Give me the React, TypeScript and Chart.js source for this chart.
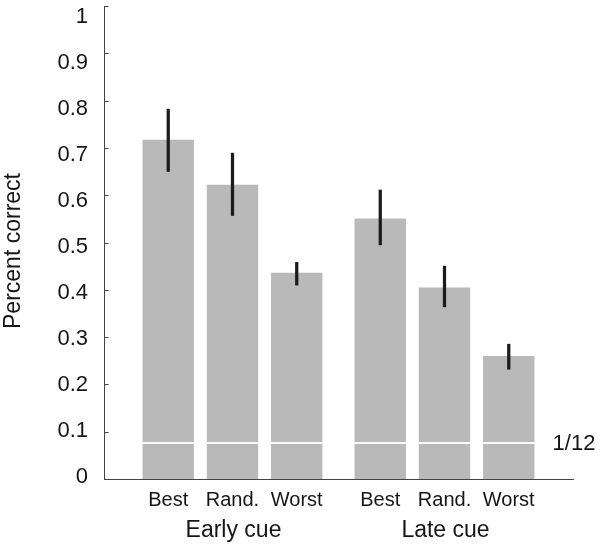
import React, { useEffect, useRef } from "react";
import { Chart, registerables } from "chart.js";

Chart.register(...registerables);

// ---- data ----
const tickLabels = ["Best", "Rand.", "Worst", "Best", "Rand.", "Worst"];
const groupLabels = ["Early cue", "Late cue"];
const groupOf = [0, 0, 0, 1, 1, 1];
const positions = [1, 2, 3, 4.3, 5.3, 6.3];
const means = [0.717, 0.622, 0.436, 0.551, 0.405, 0.26];
const errLow = [0.65, 0.557, 0.41, 0.495, 0.364, 0.232];
const errHigh = [0.782, 0.689, 0.458, 0.611, 0.45, 0.285];
const chanceLevel = 0.077;
const chanceLabel = "1/12";
const yTickValues = [0, 0.1, 0.2, 0.3, 0.4, 0.5, 0.6, 0.7, 0.8, 0.9, 1];
const yTickLabels = ["0", "0.1", "0.2", "0.3", "0.4", "0.5", "0.6", "0.7", "0.8", "0.9", "1"];
const yTitle = "Percent correct";

const FONT = '"Liberation Sans", Arial, Helvetica, sans-serif';
const TEXT = "#151515";
const AXIS = "#444";

export default function App() {
  const ref = useRef<HTMLCanvasElement>(null);

  useEffect(() => {
    const canvas = ref.current;
    if (!canvas) return;

    const overlay = {
      id: "overlay",
      afterDatasetsDraw(chart: any) {
        const ctx = chart.ctx;
        const y = chart.scales.y;
        const meta = chart.getDatasetMeta(0);
        const cy = Math.round(y.getPixelForValue(chanceLevel));
        ctx.save();
        ctx.strokeStyle = "#ffffff";
        ctx.lineWidth = 2;
        meta.data.forEach((bar: any) => {
          const w = bar.width;
          ctx.beginPath();
          ctx.moveTo(bar.x - w / 2, cy);
          ctx.lineTo(bar.x + w / 2, cy);
          ctx.stroke();
        });
        ctx.restore();
      },
      afterDraw(chart: any) {
        const ctx = chart.ctx;
        const x = chart.scales.x;
        const y = chart.scales.y;
        const area = chart.chartArea;
        ctx.save();
        // inward tick marks
        ctx.strokeStyle = AXIS;
        ctx.lineWidth = 1;
        yTickValues.forEach((v) => {
          if (v === 0) return;
          const py = Math.round(y.getPixelForValue(v)) + 0.5;
          ctx.beginPath();
          ctx.moveTo(area.left, py);
          ctx.lineTo(area.left + 4.5, py);
          ctx.stroke();
        });
        ctx.fillStyle = TEXT;
        // group labels
        ctx.font = `23px ${FONT}`;
        ctx.textAlign = "center";
        ctx.textBaseline = "alphabetic";
        groupLabels.forEach((g, gi) => {
          const xs = positions.filter((_, i) => groupOf[i] === gi);
          const c = xs.reduce((a, b) => a + b, 0) / xs.length;
          ctx.fillText(g, x.getPixelForValue(c) + 1, 537);
        });
        // chance label
        ctx.font = `22px ${FONT}`;
        ctx.textAlign = "center";
        ctx.textBaseline = "middle";
        ctx.fillText(chanceLabel, area.right + 1, y.getPixelForValue(chanceLevel) + 1.5);
        // y title
        ctx.translate(14, 251);
        ctx.rotate(-Math.PI / 2);
        ctx.font = `23px ${FONT}`;
        ctx.textAlign = "center";
        ctx.textBaseline = "middle";
        ctx.fillText(yTitle, 0, 0);
        ctx.restore();
      },
    };

    const chart = new Chart(canvas, {
      type: "bar",
      data: {
        datasets: [
          {
            label: "mean",
            data: positions.map((p, i) => ({ x: p, y: means[i] })),
            backgroundColor: "#b9b9b9",
            borderWidth: 0,
            grouped: false,
            categoryPercentage: 1,
            barPercentage: 0.8,
            order: 2,
            xAxisID: "x",
            yAxisID: "y",
          } as any,
          {
            label: "error",
            data: positions.map((p, i) => ({ x: p, y: [errLow[i], errHigh[i]] })),
            backgroundColor: "#1c1c1c",
            borderWidth: 0,
            grouped: false,
            barThickness: 2.6,
            order: 1,
            xAxisID: "x",
            yAxisID: "y",
          } as any,
        ],
      },
      options: {
        animation: false,
        responsive: true,
        maintainAspectRatio: false,
        layout: { padding: { top: 6, right: 27, left: 0, bottom: 0 } },
        plugins: {
          legend: { display: false },
          tooltip: { enabled: false },
          title: { display: false },
        },
        scales: {
          x: {
            type: "linear",
            min: 0,
            max: 7.3,
            offset: false,
            grid: { display: false, drawTicks: false, offset: false },
            border: { display: true, color: AXIS, width: 1 },
            afterBuildTicks: (s: any) => {
              s.ticks = positions.map((v) => ({ value: v }));
            },
            ticks: {
              autoSkip: false,
              maxRotation: 0,
              minRotation: 0,
              padding: 9,
              color: TEXT,
              font: { family: FONT, size: 20 },
              callback: (_v: any, i: number) => tickLabels[i],
            },
            afterFit: (s: any) => {
              s.height = 67;
              s.paddingLeft = 0;
              s.paddingRight = 0;
            },
          } as any,
          y: {
            type: "linear",
            display: false,
            min: 0,
            max: 1,
          },
          yl: {
            type: "linear",
            position: "left",
            min: -0.004343,
            max: 1.0228,
            grid: { display: false, drawTicks: false },
            border: { display: true, color: AXIS, width: 1 },
            afterBuildTicks: (s: any) => {
              s.ticks = yTickValues.map((v) => ({ value: v }));
            },
            ticks: {
              padding: 16,
              color: TEXT,
              font: { family: FONT, size: 22 },
              callback: (_v: any, i: number) => yTickLabels[i],
            },
            afterFit: (s: any) => {
              s.width = 104;
              s.paddingTop = 0;
              s.paddingBottom = 0;
            },
          } as any,
        },
      },
      plugins: [overlay],
    });

    return () => chart.destroy();
  }, []);

  return (
    <div style={{ position: "fixed", left: 0, top: 0, width: 600, height: 546, background: "#fff" }}>
      <canvas ref={ref} />
    </div>
  );
}
